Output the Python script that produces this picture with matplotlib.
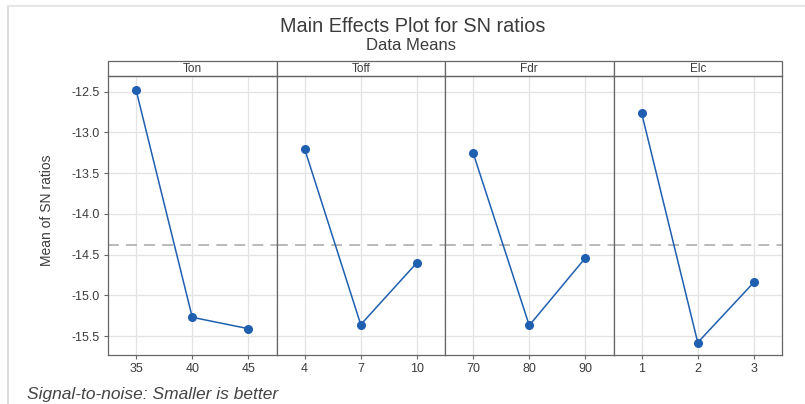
#imports
import matplotlib
matplotlib.use("Agg")
import matplotlib.pyplot as plt
from matplotlib.patches import Rectangle
from matplotlib.lines import Line2D


#Data
factors = ["Ton", "Toff", "Fdr", "Elc"]
ton_levels = ["35", "40", "45"]
toff_levels = ["4", "7", "10"]
fdr_levels = ["70", "80", "90"]
elc_levels = ["1", "2", "3"]
ton_means = [-12.48, -15.27, -15.41]
toff_means = [-13.20, -15.36, -14.60]
fdr_means = [-13.25, -15.37, -14.54]
elc_means = [-12.76, -15.58, -14.84]
y_ticks = [-12.5, -13.0, -13.5, -14.0, -14.5, -15.0, -15.5]

levels = [ton_levels, toff_levels, fdr_levels, elc_levels]
means = [ton_means, toff_means, fdr_means, elc_means]
grand_mean = sum(sum(m) for m in means) / sum(len(m) for m in means)


#Constants
W, H = 805, 404
LINE_BLUE = "#1f5fb0"
SPINE = "#666666"
GRID = "#e3e3e3"
TEXT = "#3c3c3c"

plt.rcParams["font.family"] = ["Liberation Sans", "DejaVu Sans"]

fig = plt.figure(figsize=(W / 100, H / 100), dpi=100)
fig.patch.set_facecolor("white")

# page frame (light gray border of the screenshot)
fig.add_artist(Line2D([8 / W, 8 / W], [0, 1 - 6 / H], color="#dddddd", lw=1.5))
fig.add_artist(Line2D([8 / W, 1], [1 - 6 / H, 1 - 6 / H], color="#e6e6e6", lw=1.5))

#Panel geometry in pixels
panel_left = [108, 276.5, 445, 613.5]
panel_w = 168.5
plot_top, plot_bottom = 76, 355
strip_h = 15

for i, name in enumerate(factors):
    ax = fig.add_axes([panel_left[i] / W, 1 - plot_bottom / H,
                       panel_w / W, (plot_bottom - plot_top) / H])
    x = list(range(1, len(levels[i]) + 1))

    ax.axhline(grand_mean, color="#b4b4b4", lw=1.3, dashes=(6, 4), zorder=1)
    ax.plot(x, means[i], color=LINE_BLUE, lw=1.1, marker="o", markersize=5.5,
            markerfacecolor=LINE_BLUE, markeredgecolor=LINE_BLUE, zorder=3)

    ax.set_xlim(0.5, 3.5)
    ax.set_ylim(-15.733, -12.307)
    ax.set_xticks(x)
    ax.set_xticklabels(levels[i])
    ax.set_yticks(y_ticks)
    ax.set_yticklabels([f"{v:.1f}" for v in y_ticks])
    ax.grid(True, color=GRID, lw=0.9)
    ax.set_axisbelow(True)

    for s in ax.spines.values():
        s.set_color(SPINE)
        s.set_linewidth(0.9)

    ax.tick_params(axis="x", length=3, color=SPINE, labelcolor=TEXT,
                   labelsize=9, pad=3)
    if i == 0:
        ax.tick_params(axis="y", length=3, color=SPINE, labelcolor=TEXT,
                       labelsize=9, pad=3)
    else:
        ax.tick_params(axis="y", length=0, labelleft=False)

    # strip on top with factor name
    sh = strip_h / (plot_bottom - plot_top)
    ax.add_patch(Rectangle((0, 1), 1, sh, transform=ax.transAxes, clip_on=False,
                           facecolor="white", edgecolor=SPINE, lw=0.9))
    ax.text(0.5, 1 + sh / 2, name, transform=ax.transAxes, ha="center",
            va="center", fontsize=8.5, color=TEXT)


#Titles and labels
fig.text(413 / W, 1 - 26 / H, "Main Effects Plot for SN ratios", ha="center",
         va="center", fontsize=14.3, color=TEXT)
fig.text(411 / W, 1 - 46 / H, "Data Means", ha="center", va="center",
         fontsize=12, color=TEXT)
fig.text(47 / W, 1 - 210 / H, "Mean of SN ratios", rotation=90, ha="center",
         va="center", fontsize=10, color=TEXT)
fig.text(27 / W, 1 - 395 / H, "Signal-to-noise: Smaller is better",
         ha="left", va="center", fontsize=12.5, style="italic", color="#444444")


#output
plt.savefig("out.png", dpi=100)
